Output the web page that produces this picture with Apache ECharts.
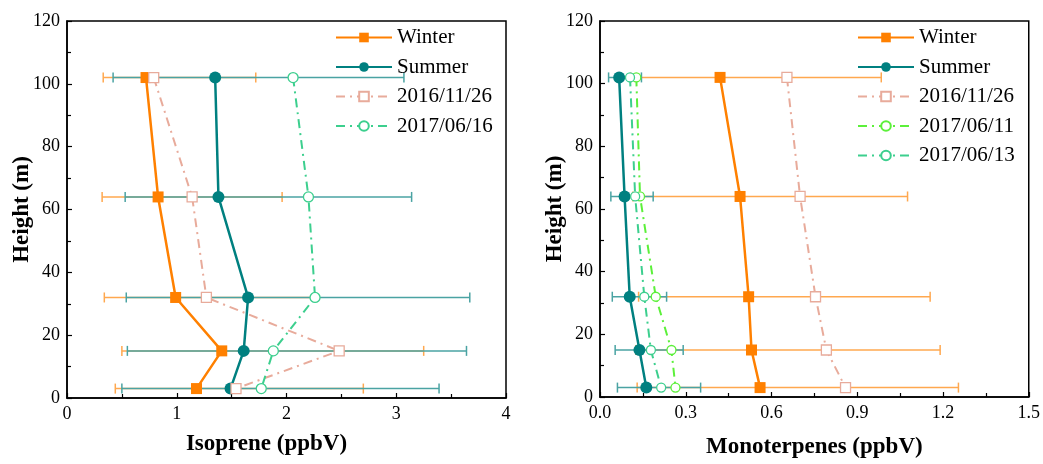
<!DOCTYPE html>
<html>
<head>
<meta charset="utf-8">
<script src="https://cdn.jsdelivr.net/npm/echarts@6/dist/echarts.min.js"></script>
<style>html,body{margin:0;padding:0;background:#fff;}#c{width:1043px;height:464px;}</style>
</head>
<body>
<div id="c"></div>
<script>
// ---- data ----
const heights = [102, 64, 32, 15, 3];
// Isoprene (ppbV)
const isoWinter = [0.72, 0.83, 0.99, 1.41, 1.18];
const isoSummer = [1.35, 1.38, 1.65, 1.61, 1.49];
const iso20161126 = [0.79, 1.14, 1.27, 2.48, 1.54];
const iso20170616 = [2.06, 2.20, 2.26, 1.88, 1.77];
const isoWinterLow = [0.33, 0.32, 0.34, 0.50, 0.44];
const isoWinterHigh = [1.72, 1.96, 2.26, 3.25, 2.70];
const isoSummerLow = [0.42, 0.53, 0.54, 0.55, 0.50];
const isoSummerHigh = [3.07, 3.14, 3.67, 3.64, 3.39];
// Monoterpenes (ppbV)
const monoWinter = [0.42, 0.49, 0.52, 0.53, 0.56];
const monoSummer = [0.067, 0.086, 0.104, 0.138, 0.162];
const mono20161126 = [0.654, 0.70, 0.754, 0.792, 0.859];
const mono20170611 = [0.127, 0.14, 0.195, 0.25, 0.264];
const mono20170613 = [0.105, 0.123, 0.155, 0.178, 0.214];
const monoWinterLow = [0.108, 0.115, 0.135, 0.125, 0.13];
const monoWinterHigh = [0.984, 1.076, 1.155, 1.19, 1.254];
const monoSummerLow = [0.03, 0.038, 0.043, 0.053, 0.061];
const monoSummerHigh = [0.145, 0.186, 0.233, 0.291, 0.352];

const legendLeft = ['Winter', 'Summer', '2016/11/26', '2017/06/16'];
const legendRight = ['Winter', 'Summer', '2016/11/26', '2017/06/11', '2017/06/13'];

// ---- styles ----
const FONT = 'Liberation Serif';
const C_WIN = '#ff8000', C_SUM = '#008080', C_PINK = '#e8ab9b',
      C_SEA = '#3ccf8e', C_LIME = '#5cf03a';
const C_WIN_ERR = '#ffa84f', C_SUM_ERR = '#4aa3a3';
const DASHDOT = [9, 5, 2, 5];

function pairs(xs) { return xs.map((v, i) => [v, heights[i]]); }
function errData(lo, hi) { return lo.map((v, i) => [v, hi[i], heights[i]]); }

function errSeries(idx, lo, hi, color, z) {
  return {
    type: 'custom', xAxisIndex: idx, yAxisIndex: idx, z: z, silent: true,
    data: errData(lo, hi),
    encode: { x: [0, 1], y: 2 },
    renderItem: function (params, api) {
      const a = api.coord([api.value(0), api.value(2)]);
      const b = api.coord([api.value(1), api.value(2)]);
      const h = 5;
      const st = { stroke: color, lineWidth: 1.5, fill: null };
      return {
        type: 'group', children: [
          { type: 'line', shape: { x1: a[0], y1: a[1], x2: b[0], y2: b[1] }, style: st },
          { type: 'line', shape: { x1: a[0], y1: a[1] - h, x2: a[0], y2: a[1] + h }, style: st },
          { type: 'line', shape: { x1: b[0], y1: b[1] - h, x2: b[0], y2: b[1] + h }, style: st }
        ]
      };
    }
  };
}

function lineSeries(idx, name, xs, color, symbol, size, open, width, dash, z) {
  return {
    type: 'line', name: name, xAxisIndex: idx, yAxisIndex: idx, z: z,
    data: pairs(xs), symbol: symbol, symbolSize: size, showSymbol: true,
    lineStyle: { color: color, width: width, type: dash || 'solid' },
    itemStyle: open ? { color: '#fff', borderColor: color, borderWidth: 1.3 } : { color: color, borderColor: color, borderWidth: 0 },
    color: color, animation: false
  };
}

const axisLabel = { color: '#000', fontFamily: FONT, fontSize: 18 };
function xAxis(idx, max, interval, name, fmt, gap, pad) {
  return {
    type: 'value', gridIndex: idx, min: 0, max: max, interval: interval,
    name: name, nameLocation: 'middle', nameGap: gap, nameMoveOverlap: false,
    nameTextStyle: { color: '#000', fontFamily: FONT, fontSize: 23, fontWeight: 'bold', padding: pad },
    axisLine: { show: true, onZero: false, lineStyle: { color: '#000', width: 1.5 } },
    axisTick: { show: true, inside: true, length: 5, lineStyle: { color: '#000', width: 1.2 } },
    minorTick: { show: true, splitNumber: 2, length: 4, lineStyle: { color: '#000', width: 1.2 } },
    splitLine: { show: false },
    axisLabel: Object.assign({ margin: 7, formatter: fmt }, axisLabel)
  };
}
function yAxis(idx, gap) {
  return {
    type: 'value', gridIndex: idx, min: 0, max: 120, interval: 20,
    name: 'Height (m)', nameLocation: 'middle', nameGap: gap, nameMoveOverlap: false,
    nameTextStyle: { color: '#000', fontFamily: FONT, fontSize: 23, fontWeight: 'bold' },
    axisLine: { show: true, onZero: false, lineStyle: { color: '#000', width: 1.5 } },
    axisTick: { show: true, inside: true, length: 5, lineStyle: { color: '#000', width: 1.2 } },
    minorTick: { show: true, splitNumber: 2, length: 4, lineStyle: { color: '#000', width: 1.2 } },
    splitLine: { show: false },
    axisLabel: Object.assign({ margin: 7 }, axisLabel)
  };
}

const legendStyle = {
  orient: 'vertical', selectedMode: false, padding: 0, itemWidth: 56, itemHeight: 12, itemGap: 8.5,
  textStyle: { color: '#000', fontFamily: FONT, fontSize: 21, lineHeight: 20 }
};

const option = {
  animation: false,
  backgroundColor: '#fff',
  grid: [
    { left: 67, right: 537, top: 21, bottom: 66, show: true, borderColor: '#000', borderWidth: 1.5, backgroundColor: 'transparent' },
    { left: 600, right: 13, top: 21, bottom: 66, show: true, borderColor: '#000', borderWidth: 1.5, backgroundColor: 'transparent' }
  ],
  xAxis: [
    xAxis(0, 4, 1, 'Isoprene (ppbV)', v => String(v), 35, [0, 40, 0, 0]),
    xAxis(1, 1.5, 0.3, 'Monoterpenes (ppbV)', v => v.toFixed(1), 39, [0, 0, 0, 0])
  ],
  yAxis: [yAxis(0, 33), yAxis(1, 33)],
  legend: [
    Object.assign({ left: 335, top: 27, data: legendLeft }, legendStyle),
    Object.assign({ left: 857, top: 27, data: legendRight }, legendStyle)
  ],
  series: [
    // left panel
    errSeries(0, isoWinterLow, isoWinterHigh, C_WIN_ERR, 1),
    errSeries(0, isoSummerLow, isoSummerHigh, C_SUM_ERR, 2),
    lineSeries(0, 'Winter', isoWinter, C_WIN, 'rect', 11, false, 2.5, null, 3),
    lineSeries(0, 'Summer', isoSummer, C_SUM, 'circle', 12, false, 2.5, null, 4),
    lineSeries(0, '2016/11/26', iso20161126, C_PINK, 'rect', 10, true, 2, DASHDOT, 5),
    lineSeries(0, '2017/06/16', iso20170616, C_SEA, 'circle', 10, true, 2, DASHDOT, 6),
    // right panel
    errSeries(1, monoWinterLow, monoWinterHigh, C_WIN_ERR, 1),
    errSeries(1, monoSummerLow, monoSummerHigh, C_SUM_ERR, 2),
    lineSeries(1, 'Winter', monoWinter, C_WIN, 'rect', 11, false, 2.5, null, 3),
    lineSeries(1, 'Summer', monoSummer, C_SUM, 'circle', 12, false, 2.5, null, 4),
    lineSeries(1, '2016/11/26', mono20161126, C_PINK, 'rect', 10, true, 2, DASHDOT, 5),
    lineSeries(1, '2017/06/11', mono20170611, C_LIME, 'circle', 9, true, 2, DASHDOT, 6),
    lineSeries(1, '2017/06/13', mono20170613, C_SEA, 'circle', 9, true, 2, DASHDOT, 6)
  ]
};

const chart = echarts.init(document.getElementById('c'), null, { renderer: 'canvas' });
chart.setOption(option);
</script>
</body>
</html>
